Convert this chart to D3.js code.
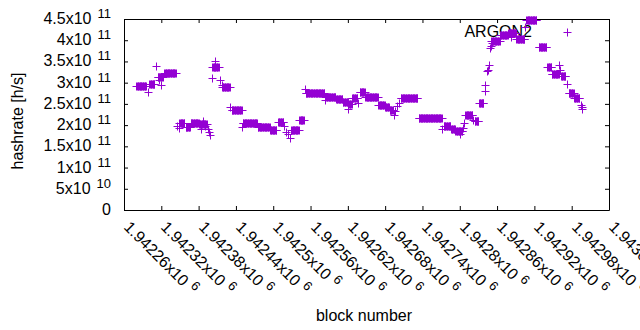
<!DOCTYPE html>
<html>
<head>
<meta charset="utf-8">
<script src="https://cdn.jsdelivr.net/npm/d3@7"></script>
<style>
  body { margin: 0; background: #fff; }
  svg { display: block; font-family: "Liberation Sans", Arial, sans-serif; }
</style>
</head>
<body>
<svg id="chart" width="640" height="330"></svg>
<script>
// runs of consecutive blocks that report the same hashrate
var runStart = [1942280, 1942301, 1942314, 1942325, 1942349, 1942359, 1942367, 1942381,
  1942402, 1942418, 1942433, 1942451, 1942475, 1942495, 1942508, 1942529, 1942542,
  1942552, 1942584, 1942601, 1942612, 1942622, 1942627, 1942639, 1942648, 1942669,
  1942680, 1942687, 1942705, 1942734, 1942774, 1942786, 1942793, 1942809, 1942824,
  1942831, 1942851, 1942865, 1942878, 1942891, 1942907, 1942927, 1942941, 1942948,
  1942963, 1942975, 1942984];
var runEnd = [1942295, 1942309, 1942322, 1942343, 1942357, 1942366, 1942380, 1942393,
  1942412, 1942430, 1942449, 1942474, 1942494, 1942505, 1942516, 1942541, 1942549,
  1942582, 1942600, 1942611, 1942621, 1942626, 1942635, 1942647, 1942668, 1942679,
  1942686, 1942692, 1942732, 1942771, 1942785, 1942792, 1942804, 1942820, 1942830,
  1942838, 1942864, 1942877, 1942890, 1942904, 1942923, 1942939, 1942947, 1942959,
  1942970, 1942983, 1942992];
var runRate = [2.91e11, 2.97e11, 3.13e11, 3.23e11, 2.06e11, 1.96e11, 2.04e11, 2.02e11,
  3.38e11, 2.89e11, 2.36e11, 2.04e11, 1.96e11, 1.89e11, 2.08e11, 1.88e11, 2.12e11,
  2.76e11, 2.67e11, 2.62e11, 2.55e11, 2.50e11, 2.64e11, 2.78e11, 2.67e11, 2.47e11,
  2.42e11, 2.35e11, 2.64e11, 2.17e11, 1.98e11, 1.92e11, 1.86e11, 2.23e11, 2.09e11,
  2.52e11, 3.98e11, 4.13e11, 4.17e11, 4.02e11, 4.48e11, 3.84e11, 3.38e11, 3.20e11,
  3.15e11, 2.76e11, 2.63e11];

// single blocks between the runs
var pointBlock = [1942299, 1942312, 1942317, 1942320, 1942345, 1942348, 1942384, 1942387,
  1942391, 1942395, 1942397, 1942399, 1942401, 1942406, 1942414, 1942417, 1942431,
  1942450, 1942518, 1942521, 1942523, 1942527, 1942551, 1942583, 1942620, 1942636,
  1942694, 1942696, 1942699, 1942703, 1942772, 1942800, 1942805, 1942807, 1942821,
  1942840, 1942841, 1942843, 1942845, 1942847, 1942849, 1942850, 1942852, 1942883,
  1942905, 1942960, 1942961, 1942972, 1942995, 1942996, 1942997];
var pointRate = [2.77e11, 3.40e11, 3.07e11, 2.94e11, 1.99e11, 1.94e11, 1.90e11, 2.09e11,
  1.98e11, 1.90e11, 1.84e11, 1.77e11, 3.11e11, 3.50e11, 3.07e11, 2.95e11, 2.42e11,
  1.95e11, 1.98e11, 1.84e11, 1.78e11, 1.70e11, 2.86e11, 2.60e11, 2.38e11, 2.52e11,
  2.25e11, 2.33e11, 2.44e11, 2.52e11, 1.90e11, 1.78e11, 1.94e11, 2.06e11, 2.13e11,
  2.80e11, 2.95e11, 3.27e11, 3.31e11, 3.42e11, 3.81e11, 3.87e11, 3.93e11, 4.07e11,
  4.32e11, 3.42e11, 3.31e11, 2.97e11, 2.47e11, 2.43e11, 2.39e11];

var xTicks = [1942260, 1942320, 1942380, 1942440, 1942500, 1942560, 1942620,
  1942680, 1942740, 1942800, 1942860, 1942920, 1942980, 1943040];
var yTicks = [0, 5e10, 1e11, 1.5e11, 2e11, 2.5e11, 3e11, 3.5e11, 4e11, 4.5e11];

var seriesName = "ARGON2";
var color = "#9400d3";

var svg = d3.select("#chart");

var x = d3.scaleLinear().domain([1942260, 1943040]).range([124, 609]);
var y = d3.scaleLinear().domain([0, 4.5e11]).range([210, 19]);

// expand runs into one point per block
var data = [];
runStart.forEach(function(s, i) {
  for (var b = s; b <= runEnd[i]; b++) data.push({ block: b, rate: runRate[i] });
});
pointBlock.forEach(function(b, i) {
  data.push({ block: b, rate: pointRate[i] });
});

// border + inward ticks on all four sides
function noLabels(axis) { return axis.tickFormat("").tickSizeOuter(0).tickSizeInner(-4); }
svg.append("g").attr("transform", "translate(0,210)").call(noLabels(d3.axisBottom(x).tickValues(xTicks)));
svg.append("g").attr("transform", "translate(0,19)").call(noLabels(d3.axisTop(x).tickValues(xTicks)));
svg.append("g").attr("transform", "translate(124,0)").call(noLabels(d3.axisLeft(y).tickValues(yTicks)));
svg.append("g").attr("transform", "translate(609,0)").call(noLabels(d3.axisRight(y).tickValues(yTicks)));
svg.selectAll("g path, g line").attr("stroke", "#000").attr("stroke-width", 1);

function splitExp(v) {
  var e = Math.floor(Math.log10(v));
  var m = +(v / Math.pow(10, e)).toPrecision(6);
  return { m: m, e: e };
}

// y tick labels like 4.5x10^11
var yl = svg.append("g").attr("font-size", "16px").attr("text-anchor", "end");
yTicks.forEach(function(v) {
  var t = yl.append("text").attr("x", 111).attr("y", Math.round(y(v)) + 5);
  if (v === 0) { t.text("0"); return; }
  var p = splitExp(v);
  t.append("tspan").text(p.m + "x10");
  t.append("tspan").attr("dx", 6).attr("dy", -6).attr("font-size", "13px").text(p.e);
});

// x tick labels, rotated 45deg
var xl = svg.append("g").attr("font-size", "16px");
xTicks.forEach(function(v) {
  var p = splitExp(v);
  var t = xl.append("text")
    .attr("transform", "translate(" + (Math.round(x(v)) - 1) + ",228) rotate(45)");
  t.append("tspan").text(p.m + "x10");
  t.append("tspan").attr("dx", 5).attr("dy", -6).attr("font-size", "13px").text(p.e);
});

svg.append("text")
  .attr("transform", "translate(23,121) rotate(-90)")
  .attr("text-anchor", "middle").attr("font-size", "16px")
  .text("hashrate [h/s]");

svg.append("text")
  .attr("x", 364).attr("y", 321)
  .attr("text-anchor", "middle").attr("font-size", "16px")
  .text("block number");

// key
svg.append("text")
  .attr("x", 532).attr("y", 37)
  .attr("text-anchor", "end").attr("font-size", "16px")
  .text(seriesName);

var plus = function(px, py) {
  px = Math.round(px) + 0.5; py = Math.round(py) + 0.5;
  return "M" + (px - 4) + "," + py + "h8M" + px + "," + (py - 4) + "v8";
};

svg.append("path")
  .attr("d", plus(567, 32))
  .attr("stroke", color).attr("fill", "none");

svg.append("path")
  .attr("d", data.map(function(d) { return plus(x(d.block), y(d.rate)); }).join(""))
  .attr("stroke", color).attr("fill", "none").attr("stroke-width", 1);
</script>
</body>
</html>
